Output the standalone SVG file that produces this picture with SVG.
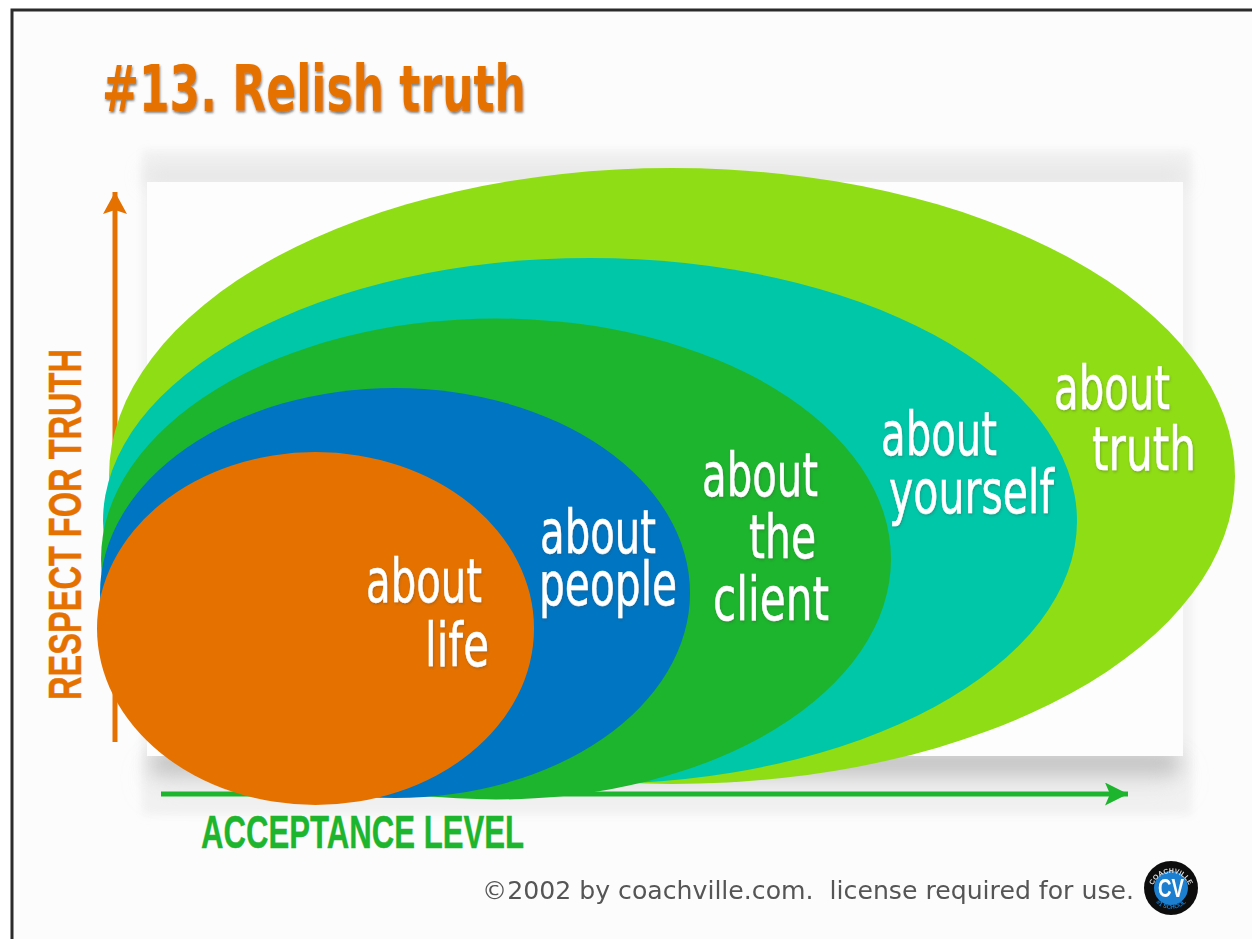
<svg xmlns="http://www.w3.org/2000/svg" width="1252" height="939" viewBox="0 0 1252 939">
<style>
.lbl{font-family:"DejaVu Sans","Open Sans",sans-serif;font-size:60px;fill:#fff;stroke:#fff;stroke-width:.5;filter:url(#ts)}
.axis{font-family:"Liberation Sans",Arial,sans-serif;font-weight:700;font-size:46px;stroke-width:.4}
</style>
<defs>
<filter id="ts" x="-10%" y="-10%" width="120%" height="125%"><feDropShadow dx=".8" dy="1.500" stdDeviation=".8" flood-color="#444" flood-opacity=".35"/></filter>
<filter id="ts2" x="-5%" y="-10%" width="110%" height="125%"><feDropShadow dx=".8" dy="2" stdDeviation=".8" flood-color="#333" flood-opacity=".6"/></filter>
<filter id="s1" x="-10%" y="-20%" width="120%" height="140%"><feGaussianBlur stdDeviation="4"/></filter>
<filter id="s2" x="-10%" y="-300%" width="120%" height="700%"><feGaussianBlur stdDeviation="10"/></filter>
<filter id="s3" x="-10%" y="-300%" width="120%" height="700%"><feGaussianBlur stdDeviation="16"/></filter>
<filter id="soft" x="-10%" y="-10%" width="120%" height="120%"><feGaussianBlur stdDeviation=".6"/></filter>
<marker id="ao" markerUnits="userSpaceOnUse" markerWidth="24" markerHeight="26" refX="22" refY="12" orient="auto"><path d="M0 0L22 12L0 24L4 12Z" fill="#e57200"/></marker>
<marker id="ag" markerUnits="userSpaceOnUse" markerWidth="24" markerHeight="24" refX="23" refY="11.500" orient="auto"><path d="M0 0L23 11.500L0 23L5 11.500Z" fill="#1db52d"/></marker>
<path id="logoTop" d="M1152 892A19 19 0 0 1 1190 892"/>
<path id="logoBot" d="M1150 888A21 21 0 0 0 1192 888"/>
</defs>
<rect id="page-outer" width="1252" height="939" fill="#fff"/>
<rect id="page" x="12" y="10" width="1245" height="940" fill="#fcfcfc" stroke="#2b2b2b" stroke-width="3"/>
<g id="panel">
<rect x="142" y="150" width="1050" height="665" fill="#f2f2f2" filter="url(#s1)"/>
<rect x="145" y="168" width="1040" height="16" fill="#dcdcdc" opacity=".7" filter="url(#s2)"/>
<rect x="152" y="752" width="1026" height="22" fill="#a8a8a8" opacity=".75" filter="url(#s2)"/>
<rect x="152" y="770" width="1026" height="16" fill="#d8d8d8" opacity=".5" filter="url(#s3)"/>
<rect x="147" y="182" width="1036" height="574" fill="#fdfdfd"/>
</g>
<g id="connectors" fill="none" stroke-width="5">
<line id="axis-y" x1="115" y1="742" x2="115" y2="192" stroke="#e57200" marker-end="url(#ao)"/>
<line id="axis-x" x1="161" y1="794" x2="1128" y2="794" stroke="#1db52d" marker-end="url(#ag)"/>
</g>
<g id="node-truth"><ellipse cx="672" cy="476" rx="563" ry="308" fill="#8fdd15"/>
<text class="lbl" x="1054" y="409" textLength="116" lengthAdjust="spacingAndGlyphs">about</text>
<text class="lbl" x="1092" y="470" textLength="104" lengthAdjust="spacingAndGlyphs">truth</text></g>
<g id="node-yourself"><ellipse cx="590" cy="521" rx="487" ry="263" fill="#00c7a8"/>
<text class="lbl" x="881" y="455" textLength="116" lengthAdjust="spacingAndGlyphs">about</text>
<text class="lbl" x="889" y="513" textLength="165" lengthAdjust="spacingAndGlyphs">yourself</text></g>
<g id="node-client"><ellipse cx="496" cy="559" rx="395" ry="240.500" fill="#1db52d"/>
<text class="lbl" x="702" y="496" textLength="116" lengthAdjust="spacingAndGlyphs">about</text>
<text class="lbl" x="749" y="558" textLength="67" lengthAdjust="spacingAndGlyphs">the</text>
<text class="lbl" x="713" y="620" textLength="116" lengthAdjust="spacingAndGlyphs">client</text></g>
<g id="node-people"><ellipse cx="395" cy="593" rx="295" ry="205" fill="#0075c2"/>
<text class="lbl" x="540" y="553" textLength="116" lengthAdjust="spacingAndGlyphs">about</text>
<text class="lbl" x="539" y="605" textLength="138" lengthAdjust="spacingAndGlyphs">people</text></g>
<g id="node-life"><ellipse cx="315.500" cy="628.500" rx="218.500" ry="176.500" fill="#e57200"/>
<text class="lbl" x="366" y="602" textLength="116" lengthAdjust="spacingAndGlyphs">about</text>
<text class="lbl" x="425" y="666" textLength="64" lengthAdjust="spacingAndGlyphs">life</text></g>
<text id="title" x="102" y="111" font-family="'DejaVu Sans','Open Sans',sans-serif" font-weight="700" font-size="64" fill="#e57200" textLength="424" lengthAdjust="spacingAndGlyphs" filter="url(#ts2)">#13. Relish truth</text>
<text id="label-y" class="axis" transform="translate(81 700) rotate(-90)" fill="#e57200" stroke="#e57200" textLength="351" lengthAdjust="spacingAndGlyphs">RESPECT FOR TRUTH</text>
<text id="label-x" class="axis" x="201" y="848" fill="#1db52d" stroke="#1db52d" textLength="323" lengthAdjust="spacingAndGlyphs">ACCEPTANCE LEVEL</text>
<text id="copyright" x="482" y="899" font-family="'DejaVu Sans',sans-serif" font-size="25" fill="#555" textLength="652" lengthAdjust="spacingAndGlyphs" xml:space="preserve" filter="url(#soft)">©2002 by coachville.com.  license required for use.</text>
<g id="logo" filter="url(#soft)">
<circle cx="1171" cy="888" r="27" fill="#0a0a0a"/>
<circle cx="1171" cy="888" r="17" fill="#1b7fd0"/>
<text x="1171" y="897" text-anchor="middle" font-family="'Liberation Sans',sans-serif" font-weight="700" font-size="25" fill="#fff" textLength="26" lengthAdjust="spacingAndGlyphs">CV</text>
<text font-family="'Liberation Sans',sans-serif" font-weight="700" font-size="7" fill="#ddd"><textPath href="#logoTop" startOffset="50%" text-anchor="middle">COACHVILLE</textPath></text>
<text font-family="'Liberation Sans',sans-serif" font-weight="700" font-size="6" fill="#1b7fd0"><textPath href="#logoBot" startOffset="50%" text-anchor="middle">#1 SCHOOL</textPath></text>
</g>
</svg>
